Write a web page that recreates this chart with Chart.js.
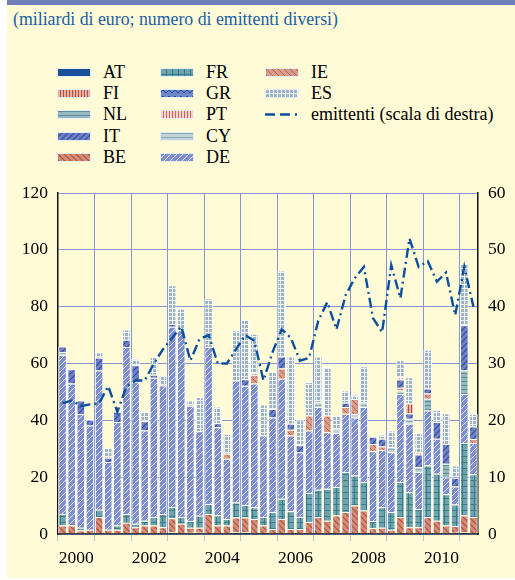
<!DOCTYPE html>
<html lang="it">
<head>
<meta charset="UTF-8">
<title>Emissioni per paese</title>
<style>
    body { margin: 0; background: #fff; font-family: "Liberation Serif", "Times New Roman", serif; }
    #panel { position: absolute; left: 7px; top: 0; width: 508px; height: 578px; background: #fffbd6; border-top: 5px solid #6e7fbc; box-sizing: border-box; }
    #title { position: absolute; left: 13px; top: 9px; font-size: 17.8px; color: #1a5fa8; white-space: nowrap; }
    .item { position: absolute; height: 20px; line-height: 20px; font-size: 18px; color: #000; white-space: nowrap; }
    .item canvas { position: absolute; left: 0; top: 6px; }
    .item span { position: absolute; left: 46px; top: 0; }
    #chart { position: absolute; left: 0; top: 0; }
</style>
</head>
<body>
<div id="panel"></div>
<div id="title">(miliardi di euro; numero di emittenti diversi)</div>
<div id="legend"></div>
<canvas id="chart" width="515" height="580"></canvas>

<script src="https://cdn.jsdelivr.net/npm/chart.js"></script>
<script>
    // trimestri 2000 T1 - 2011 T2
    const quarters = [];
    for (let y = 2000; y <= 2011; y++) {
        for (let q = 1; q <= 4; q++) {
            if (y === 2011 && q > 2) break;
            quarters.push(y + ' T' + q);
        }
    }

    // miliardi di euro
    const AT = [0,0,0,0,0,0,0,0,0,0, 0,0,0.5,0,0.4,0.4,0,0,0,0.5, 0.5,0,0,0,0,0,0,0,0,0, 0,0,0,0,0,0,0,0,0,0, 0,0,0,0.4,0.5,0];
    const BE = [3,3,1.2,1.5,6,1.5,1.5,4,2.4,3, 3,2.4,5,3.6,1.8,1.8,7,3,3,5.3, 5.3,5.3,3,1.8,5.3,1.8,1.8,4.2,6,4.7, 6.5,7.7,10,8.3,2,2.2,1.5,6,2.4,2.4, 6,4.7,3,2.4,6,6];
    const FR = [4,0,1,0,2.5,0,1.5,3,1.2,1.7, 3,4.6,4,2.4,2.4,4.2,3.6,3.5,2.3,5.3, 4.4,4.1,3,5.9,7.1,6.2,4.2,10.2,9.6,11.2, 10,14.1,10.6,10,2.6,7.2,6.2,12.3,12.3,6.4, 18.1,16.5,11,7.6,25.5,15];
    const DE = [56,50,40,36.7,49,23.8,36.4,58.8,50,31.7, 49,45.3,63.4,65.7,40.5,29.8,55.2,31.1,21.2,42.9, 42,43.6,28.7,33.3,42.2,26.7,22.8,22,29.1,19.9, 19,20.5,20.4,26.4,24.5,20.2,21.1,31,24.1,13, 19.4,12.3,6,6.3,17.3,11];
    const CY = [1,0,0,0,0,0,0,0,0,0, 0,0,0,0,0,0,0,0,0,0, 0,0,0,0,0,0,0,0,1.7,0, 1.5,0,1.2,1.7,0,0,1.8,1.2,1.8,1.7, 0,0,0,0,0,0];
    const NL = [0,0,0,0,0,0,0,0,0,0, 0,0,0,0,0,0,0,0,0,0, 0,0,0,0,0,0,0,0,0,0, 0,0,0,0,0,0,0,0,0,0, 4.1,0,4.7,0,8.2,0];
    const IE = [0,0,0,0,0,0,0,0,0,0, 0,0,0,0,0,0,0,0,1.7,0, 0,3,0,0,3.6,2,0,5.3,0,5.9, 0,2.4,5.3,0,2.6,1.2,0,1,0,0, 1.8,0,0,0,0,1.4];
    const IT = [2,5,4.8,2,4.5,1.5,3.6,2.6,5.8,3.3, 1,0,1,0,0,0,0,1.4,0,0, 2.3,0.5,0,3,4.3,2.1,2.4,0,0,0, 0,1.5,0,0,2.5,2.7,0,2.9,1.8,4.5, 1.8,5.9,7,3.1,16,4.4];
    const FI = [0,0,0,0,0,0,0,0,0,0, 0,0,0,0,0,0,0,0,0,0, 0,0,0,0,0,0,0,0,0,0, 0,0,0,0,0,0,0,0,3.5,0, 0,0,0,0,0,0];
    const PT = [0,0,0,0,0,0,0,0,0,0, 0,0,0,0,0,0,0,0,0,0, 0,0,0,0,0,0,0,0,0,0, 0,0,0,0,0,0,0,0.8,0,0.8, 0,0,0,0,0,0];
    const GR = [0,0,0,0,0,0,0,0,0,0, 0,0,0,0,0,0,0,0,0,0, 0,0,0,0,0,0,0,0,0,0, 0,0,0,0,0,0,0,0,0,0, 0,0,0,0,0,0];
    const ES = [0,0,0,0,2,3.5,0,3.6,2.3,3.3, 6.3,3.5,13.6,7.6,1.9,12,17.1,5.9,7.1,17.7, 20.9,14,10.9,13.3,30.2,23.7,8.8,11.8,16.1,17.1, 4.7,4.3,1.6,12.6,0,1.5,5.8,5.9,9.3,6.7, 13.6,4.3,10.8,4.3,21.5,4.5];

    // numero di emittenti (scala di destra)
    const emittenti = [23,23.5,22.5,22.8,23,26,21.5,26,27,27, 30,32.5,34.5,36.5,30.5,34.3,35,30,30,32.5, 35,34,27,32,36,34.5,30.5,31,37.5,40.8, 36,42,45,47,38,35.5,47.3,41.5,52,47, 48,44.4,46,38.5,47,40];

    const leftTicks = [0, 20, 40, 60, 80, 100, 120];
    const rightTicks = [0, 10, 20, 30, 40, 50, 60];
    const yearLabels = ['2000', '2002', '2004', '2006', '2008', '2010'];

    // ordine di impilamento (dal basso) e ordine della legenda
    const stackOrder = [['AT', AT], ['BE', BE], ['FR', FR], ['DE', DE], ['CY', CY], ['NL', NL],
                        ['IE', IE], ['IT', IT], ['FI', FI], ['PT', PT], ['GR', GR], ['ES', ES]];
    const legendOrder = ['AT', 'FI', 'NL', 'IT', 'BE', 'FR', 'GR', 'PT', 'CY', 'DE', 'IE', 'ES', 'emittenti'];
    const lineLabel = 'emittenti (scala di destra)';

    // --- trame ---
    function makePattern(bg, size, draw) {
        const c = document.createElement('canvas');
        c.width = size; c.height = size;
        const g = c.getContext('2d');
        g.fillStyle = bg;
        g.fillRect(0, 0, size, size);
        if (draw) draw(g, size);
        return g.createPattern(c, 'repeat');
    }
    function diag(color, width, back) {
        return function(g, s) {
            g.strokeStyle = color; g.lineWidth = width;
            g.beginPath();
            if (back) {
                g.moveTo(-1, -1); g.lineTo(s + 1, s + 1);
                g.moveTo(-1, s - 1); g.lineTo(1, s + 1);
                g.moveTo(s - 1, -1); g.lineTo(s + 1, 1);
            } else {
                g.moveTo(-1, s + 1); g.lineTo(s + 1, -1);
                g.moveTo(-1, 1); g.lineTo(1, -1);
                g.moveTo(s - 1, s + 1); g.lineTo(s + 1, s - 1);
            }
            g.stroke();
        };
    }
    function gridLines(color) {
        return function(g, s) {
            g.fillStyle = color;
            g.fillRect(0, 0, s, 1);
            g.fillRect(0, 0, 1, s);
        };
    }
    function vLines(color) {
        return function(g, s) { g.fillStyle = color; g.fillRect(0, 0, 1, s); };
    }
    function hLines(color) {
        return function(g, s) { g.fillStyle = color; g.fillRect(0, 1, s, 1); };
    }

    const fills = {
        AT: '#1b4f9c',
        FI: makePattern('#e4b2a4', 3, vLines('#b44a40')),
        NL: makePattern('#98b8c0', 4, hLines('#5a8e9a')),
        IT: makePattern('#6f80c6', 6, diag('#2c4c9e', 1.1)),
        BE: makePattern('#d28c78', 6, diag('#b0503e', 1.1, true)),
        FR: makePattern('#6ea4ad', 6, gridLines('#3a7c8a')),
        GR: makePattern('#6c88c8', 6, function(g, s) {
            g.strokeStyle = '#2a4a98'; g.lineWidth = 1;
            g.beginPath(); g.moveTo(0, 4); g.lineTo(3, 1); g.lineTo(6, 4); g.stroke();
        }),
        PT: makePattern('#f2d6ce', 3, vLines('#cc6666')),
        CY: makePattern('#c2d4da', 4, hLines('#86aab4')),
        DE: makePattern('#7d8ed2', 6, diag('#f4f6ff', 0.9)),
        IE: makePattern('#d89c8c', 6, diag('#bc6452', 1, true)),
        ES: makePattern('#9fb4c1', 4, gridLines('#eef3f7'))
    };
    const lineColor = '#0b4f9f';
    const lineDash = [10, 4, 2, 4];

    // --- legenda ---
    const legend = document.getElementById('legend');
    const colX = [57, 160, 265];
    const rowY = [62, 83, 104, 126, 147];
    legendOrder.forEach(function(name, i) {
        const col = Math.floor(i / 5), row = i % 5;
        const item = document.createElement('div');
        item.className = 'item';
        item.style.left = colX[col] + 'px';
        item.style.top = rowY[row] + 'px';
        const sw = document.createElement('canvas');
        sw.width = 34; sw.height = 9;
        const g = sw.getContext('2d');
        if (name === 'emittenti') {
            g.strokeStyle = lineColor; g.lineWidth = 2.4;
            g.setLineDash([10, 5, 10, 5, 2, 6]);
            g.beginPath(); g.moveTo(0, 4.5); g.lineTo(34, 4.5); g.stroke();
        } else {
            g.fillStyle = '#e8eef4';
            g.fillRect(0, 0, 34, 9);
            g.fillStyle = fills[name];
            g.fillRect(1, 1, 32, 7);
        }
        const label = document.createElement('span');
        label.textContent = name === 'emittenti' ? lineLabel : name;
        item.appendChild(sw);
        item.appendChild(label);
        legend.appendChild(item);
    });

    // --- grafico ---
    const datasets = stackOrder.map(function(s) {
        return {
            type: 'bar',
            label: s[0],
            data: s[1],
            backgroundColor: fills[s[0]],
            borderColor: '#ffffff',
            borderWidth: 1,
            barPercentage: 0.94,
            categoryPercentage: 1,
            yAxisID: 'y',
            order: 2
        };
    });
    datasets.push({
        type: 'line',
        label: lineLabel,
        data: emittenti,
        borderColor: lineColor,
        borderWidth: 2.4,
        borderDash: lineDash,
        pointRadius: 0,
        fill: false,
        tension: 0,
        yAxisID: 'y1',
        order: 1
    });

    const yearColor = function(ctx) { return ctx.index % 4 === 0 ? '#8595d5' : 'rgba(0,0,0,0)'; };
    const font = { family: '"Liberation Serif", "Times New Roman", serif', size: 17.5 };

    new Chart(document.getElementById('chart'), {
        data: { labels: quarters, datasets: datasets },
        options: {
            responsive: false,
            animation: false,
            layout: { padding: { top: 193, left: 0, right: 0, bottom: 0 } },
            plugins: { legend: { display: false }, tooltip: { enabled: false } },
            scales: {
                x: {
                    stacked: true,
                    offset: true,
                    afterFit: function(scale) { scale.height = 46; },
                    grid: { offset: true, color: yearColor, tickColor: function(ctx) { return ctx.index % 4 === 0 ? '#c4c4d0' : 'rgba(0,0,0,0)'; }, tickLength: 7, lineWidth: 1 },
                    border: { display: true, color: '#222', width: 1.5 },
                    ticks: {
                        autoSkip: false, maxRotation: 0, minRotation: 0,
                        labelOffset: 4.57, padding: 7,
                        color: '#000', font: font,
                        callback: function(v, i) { return i % 8 === 1 ? yearLabels[(i - 1) / 8] : ''; }
                    }
                },
                y: {
                    stacked: true,
                    position: 'left',
                    min: 0, max: 120,
                    afterFit: function(scale) { scale.width = 58; },
                    afterBuildTicks: function(scale) { scale.ticks = leftTicks.map(function(v) { return { value: v }; }); },
                    grid: { color: '#8595d5', lineWidth: 1, drawTicks: false },
                    border: { display: true, color: '#111', width: 1.5 },
                    ticks: { padding: 10, color: '#000', font: font }
                },
                y1: {
                    position: 'right',
                    min: 0, max: 60,
                    afterFit: function(scale) { scale.width = 37; },
                    afterBuildTicks: function(scale) { scale.ticks = rightTicks.map(function(v) { return { value: v }; }); },
                    grid: { display: false, drawTicks: false },
                    border: { display: true, color: '#111', width: 1.5 },
                    ticks: { padding: 10, color: '#000', font: font }
                }
            }
        }
    });
</script>
</body>
</html>
